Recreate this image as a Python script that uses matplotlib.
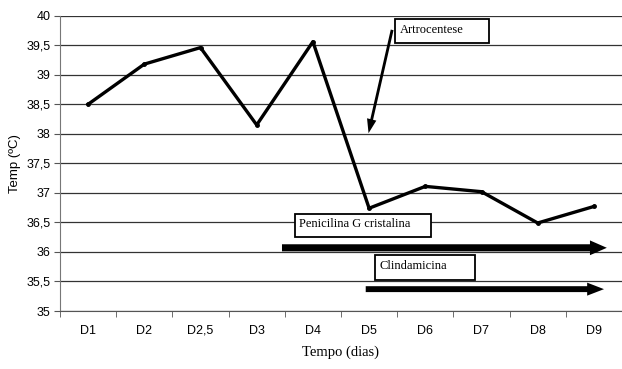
import numpy as np
import matplotlib.pyplot as plt
from matplotlib.patches import Rectangle

dias = ['D1', 'D2', 'D2,5', 'D3', 'D4', 'D5', 'D6', 'D7', 'D8', 'D9']
temp = [38.5, 39.18, 39.46, 38.15, 39.56, 36.74, 37.11, 37.02, 36.49, 36.77]
yticks = [35, 35.5, 36, 36.5, 37, 37.5, 38, 38.5, 39, 39.5, 40]

sans = 'Liberation Sans'
serif = 'Liberation Serif'

fig = plt.figure(figsize=(6.22, 3.69), dpi=100)
ax = fig.add_axes([60/622, 1-311/369, 562/622, (311-15.7)/369])

x = np.arange(len(dias))
ax.plot(x, temp, color='black', lw=2.4, marker='o', ms=2.5, zorder=3)

ax.set_xlim(-0.5, -0.5 + 562/57.1)
ax.set_ylim(35, 40)
ax.set_yticks(yticks)
ax.set_yticklabels([('%g' % v).replace('.', ',') for v in yticks], fontfamily=sans, fontsize=9)
ax.set_xticks(x)
ax.set_xticklabels(dias, fontfamily=sans, fontsize=9)
ax.set_xticks(np.arange(-0.5, len(dias), 1), minor=True)
ax.tick_params(axis='x', which='major', length=0, pad=10)
ax.tick_params(axis='x', which='minor', length=4, color='#555555')
ax.tick_params(axis='y', length=4, color='#555555', pad=3)

ax.grid(axis='y', color='#333333', lw=0.9)
for s in ['top', 'right']:
    ax.spines[s].set_visible(False)
ax.spines['left'].set_color('#777777')
ax.spines['bottom'].set_color('#555555')

ax.set_ylabel('Temp (ºC)', fontfamily=sans, fontsize=9.5, labelpad=4)
ax.set_xlabel('Tempo (dias)', fontfamily=serif, fontsize=10.5, labelpad=6)


def caixa(x0, x1, y0, y1, txt):
    ax.add_patch(Rectangle((x0, y0), x1 - x0, y1 - y0, fc='white', ec='black', lw=1.3, zorder=4))
    ax.text(x0 + 0.08, (y0 + y1) / 2 + 0.02, txt, fontfamily=serif, fontsize=9,
            va='center', ha='left', zorder=5)


def seta(x0, y0, x1, y1, w, hw, hl):
    ax.arrow(x0, y0, x1 - x0, y1 - y0, width=w, head_width=hw, head_length=hl,
             length_includes_head=True, fc='black', ec='none', zorder=4)


# Artrocentese
seta(5.41, 39.76, 4.99, 38.01, 0.05, 0.17, 0.24)
caixa(5.46, 7.13, 39.54, 39.94, 'Artrocentese')

# tratamentos
seta(3.45, 36.07, 9.23, 36.07, 0.12, 0.25, 0.3)
caixa(3.68, 6.11, 36.25, 36.64, 'Penicilina G cristalina')

seta(4.94, 35.37, 9.18, 35.37, 0.1, 0.22, 0.3)
caixa(5.10, 6.88, 35.52, 35.95, 'Clindamicina')

plt.savefig('out.png', dpi=100)
